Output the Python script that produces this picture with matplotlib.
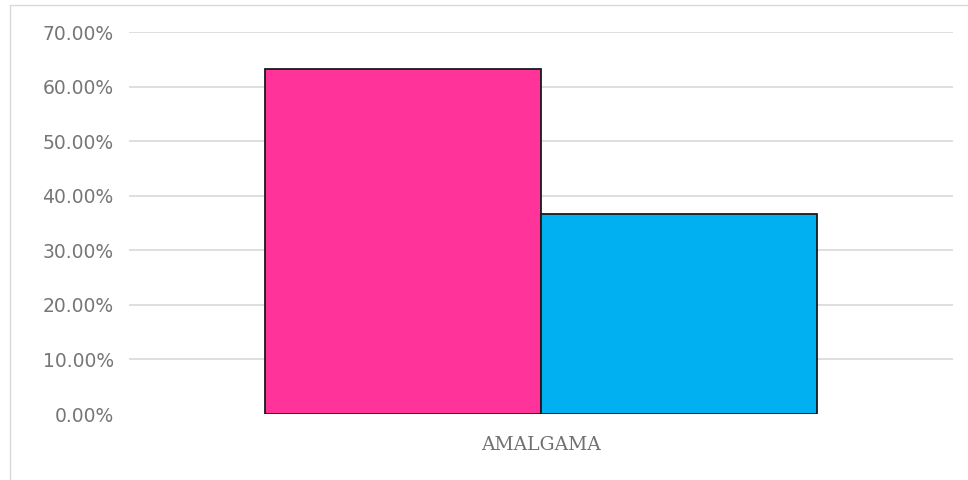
import matplotlib.pyplot as plt
from matplotlib.patches import Rectangle
from matplotlib.ticker import FuncFormatter

# Datos
categoria = 'AMALGAMA'
valores = [63.3, 36.7]
colores = ['#FF3399', '#00B0F0']
yticks = [0, 10, 20, 30, 40, 50, 60, 70]

fig = plt.figure(figsize=(9.68, 4.8), dpi=100)
ax = fig.add_axes([129 / 968, 1 - 414 / 480, 824 / 968, 382 / 480])

# Marco exterior del gráfico
fig.patches.append(Rectangle((10 / 968, -0.1), 1.1, 1 - 5 / 480 + 0.1,
                             transform=fig.transFigure, fill=False,
                             edgecolor='#d9d9d9', linewidth=1))

ancho = 0.335
posiciones = [-ancho / 2, ancho / 2]
ax.bar(posiciones, valores, width=ancho, color=colores,
       edgecolor='#1a1a1a', linewidth=1.3, zorder=3)

ax.set_xlim(-0.5, 0.5)
ax.set_ylim(0, 70)
ax.set_yticks(yticks)
ax.yaxis.set_major_formatter(FuncFormatter(lambda v, p: f'{v:.2f}%'))
ax.grid(axis='y', color='#d9d9d9', linewidth=1.2, zorder=0)
# sin línea de cuadrícula en el 0
ax.get_ygridlines()[0].set_visible(False)

ax.set_xticks([0])
ax.set_xticklabels([categoria], family='DejaVu Serif', fontsize=13.5, color='#707070')
for t in ax.get_yticklabels():
    t.set_family('DejaVu Sans')
    t.set_fontsize(13.5)
    t.set_color('#767676')

ax.tick_params(axis='both', length=0)
ax.tick_params(axis='y', pad=11)
ax.tick_params(axis='x', pad=16)
for s in ax.spines.values():
    s.set_visible(False)

fig.savefig('out.png', dpi=100)
